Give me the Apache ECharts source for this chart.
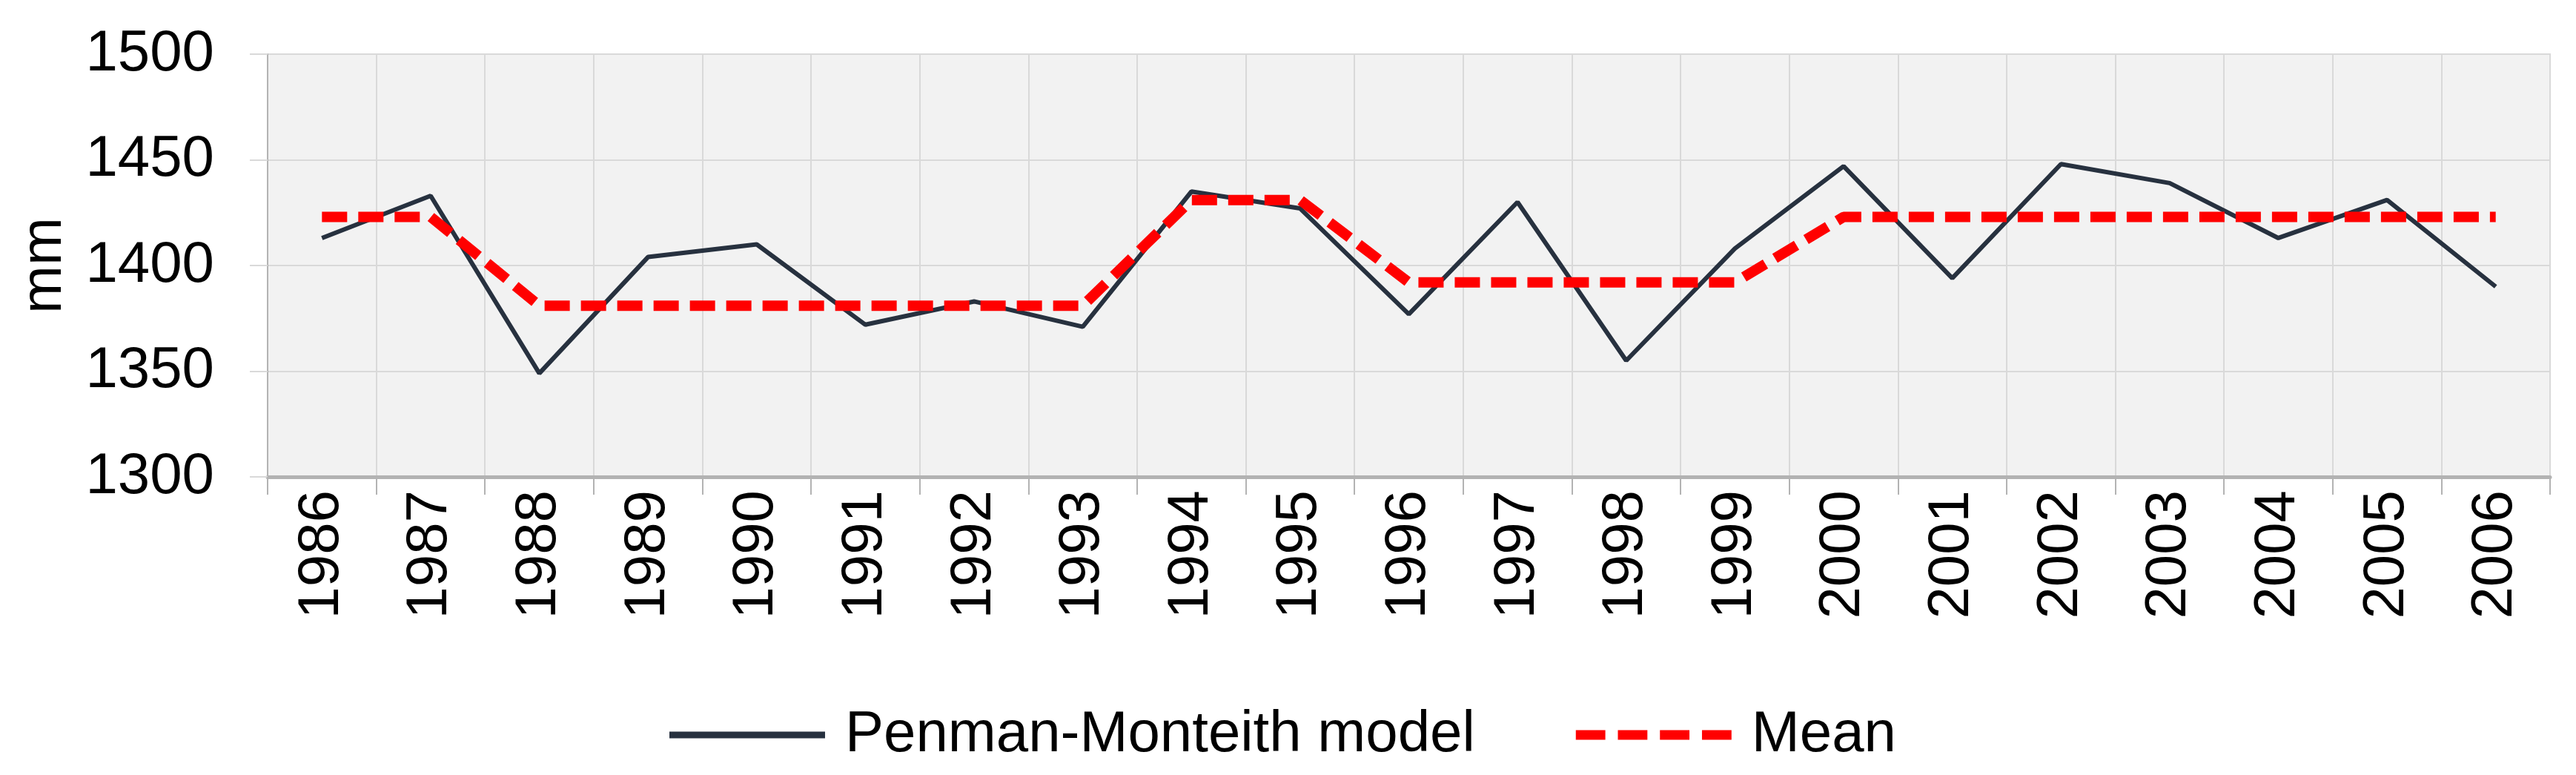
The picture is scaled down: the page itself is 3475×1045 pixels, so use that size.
<!DOCTYPE html>
<html>
<head>
<meta charset="utf-8">
<script src="https://cdn.jsdelivr.net/npm/echarts@6/dist/echarts.min.js"></script>
<style>
html,body{margin:0;padding:0;background:#fff;}
#chart{width:3475px;height:1045px;}
</style>
</head>
<body>
<div id="chart"></div>
<script>
const years = ['1986','1987','1988','1989','1990','1991','1992','1993','1994','1995','1996','1997','1998','1999','2000','2001','2002','2003','2004','2005','2006'];
const penmanMonteith = [1413,1433,1349,1404,1410,1372,1383,1371,1435,1427,1377,1430,1355,1408,1447,1394,1448,1439,1413,1431,1390];
const meanValues = [1423,1423,1381,1381,1381,1381,1381,1381,1431,1431,1392,1392,1392,1392,1423,1423,1423,1423,1423,1423,1423];
const yTicks = [1300,1350,1400,1450,1500];

const FONT = 'Liberation Sans';
const FS = 78;
const chart = echarts.init(document.getElementById('chart'), null, {renderer:'canvas'});
chart.setOption({
  animation:false,
  backgroundColor:'#ffffff',
  grid:{left:361,right:35,top:73,bottom:402,show:true,backgroundColor:'#f2f2f2',borderColor:'#d9d9d9',borderWidth:2},
  legend:{
    left:898, top:947,
    itemWidth:210, itemHeight:13, itemGap:136,
    textStyle:{fontFamily:FONT,fontSize:FS,color:'#000',padding:[0,0,0,22]},
    data:[
      {name:'Penman-Monteith model',icon:'path://M0,0H0.05V0.05H0Z M0,2H210V11H0Z M209.95,12.95H210V13H209.95Z'},
      {name:'Mean',icon:'path://M0,0H40V13H0Z M57,0H97V13H57Z M114,0H154V13H114Z M171,0H211V13H171Z'}
    ]
  },
  xAxis:{
    type:'category', data:years, boundaryGap:true,
    axisLine:{show:true,lineStyle:{color:'#b3b3b3',width:5}},
    axisTick:{show:true,length:24,alignWithLabel:false,lineStyle:{color:'#b3b3b3',width:2}},
    axisLabel:{rotate:90,margin:18,fontFamily:FONT,fontSize:FS,color:'#000'},
    splitLine:{show:true,lineStyle:{color:'#d9d9d9',width:2}}
  },
  yAxis:{
    type:'value', min:yTicks[0], max:yTicks[yTicks.length-1], interval:50,
    name:'mm', nameLocation:'middle', nameRotate:90, nameGap:262,
    nameTextStyle:{fontFamily:FONT,fontSize:FS,color:'#000'},
    axisLine:{show:true,lineStyle:{color:'#b3b3b3',width:2}},
    axisTick:{show:true,length:24,lineStyle:{color:'#d9d9d9',width:2}},
    axisLabel:{margin:72,fontFamily:FONT,fontSize:FS,color:'#000',formatter:function(v){return String(v);}},
    splitLine:{show:true,lineStyle:{color:'#d9d9d9',width:2}}
  },
  series:[
    {name:'Penman-Monteith model',type:'line',data:penmanMonteith,showSymbol:false,symbol:'none',
     lineStyle:{color:'#27313f',width:6},itemStyle:{color:'#27313f'},z:2},
    {name:'Mean',type:'line',data:meanValues,showSymbol:false,symbol:'none',
     lineStyle:{color:'#ff0000',width:14,type:[34,15],cap:'butt'},itemStyle:{color:'#ff0000'},z:3}
  ]
});
</script>
</body>
</html>
